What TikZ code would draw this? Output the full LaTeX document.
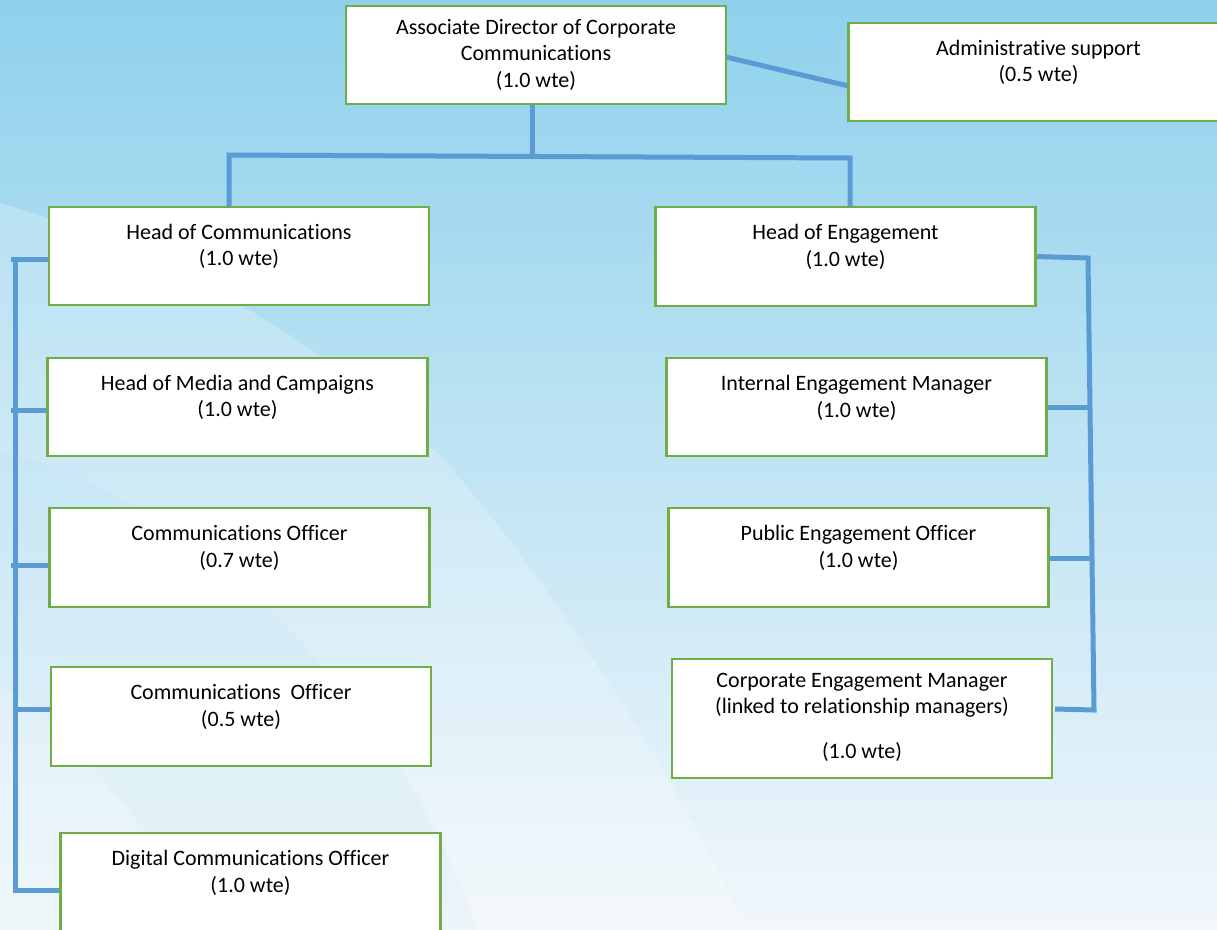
\documentclass[tikz,border=0pt]{standalone}
\usepackage{fontspec}
\setmainfont{Carlito}[Ligatures={NoCommon}]
\usetikzlibrary{calc}
\definecolor{bgtop}{RGB}{143,209,236}
\definecolor{bgmid}{RGB}{184,224,242}
\definecolor{bgbot}{RGB}{241,247,251}
\definecolor{linkblue}{RGB}{91,155,213}
\definecolor{boxgreen}{RGB}{112,173,71}
\pgfdeclarelayer{bglayer}
\pgfsetlayers{bglayer,main}
\tikzset{
  orgbox/.style={draw=boxgreen, line width=2.6pt, fill=white, inner sep=0pt, outer sep=0pt, minimum width=380pt, minimum height=98pt},
  boxtext/.style={anchor=north, align=center, inner sep=0pt, font=\fontsize{22}{26.5}\selectfont},
  conn/.style={draw=linkblue, line width=5pt, line join=miter}
}
\begin{document}
\begin{tikzpicture}[x=1pt,y=-1pt]
\useasboundingbox (0,0) rectangle (1217,929);

% boxes
\node[orgbox] (dir) at (536,55) {};
\node[orgbox] (adm) at (1038.5,72) {};
\node[orgbox] (hc) at (239,256) {};
\node[orgbox, minimum height=99pt] (he) at (845.5,256.5) {};
\node[orgbox] (hm) at (237.5,407) {};
\node[orgbox, minimum height=99pt] (co7) at (239.5,557.5) {};
\node[orgbox, minimum height=99pt] (co5) at (241,716.5) {};
\node[orgbox] (dig) at (250.5,882) {};
\node[orgbox] (iem) at (856.5,407) {};
\node[orgbox, minimum height=99pt] (peo) at (858.5,557.5) {};
\node[orgbox, minimum height=119pt] (cem) at (862,718.5) {};

% texts
\node[boxtext] (dirT) at ($(dir.north)+(0,9.5)$) {\strut Associate Director of Corporate\\Communications\\(1.0 wte)};
\node[boxtext] (admT) at ($(adm.north)+(0,13.5)$) {\strut Administrative support\\(0.5 wte)};
\node[boxtext] (hcT) at ($(hc.north)+(0,13.5)$) {\strut Head of Communications\\(1.0 wte)};
\node[boxtext] (heT) at ($(he.north)+(0,14)$) {\strut Head of Engagement\\(1.0 wte)};
\node[boxtext] (hmT) at ($(hm.north)+(0,13.5)$) {\strut Head of Media and Campaigns\\(1.0 wte)};
\node[boxtext] (co7T) at ($(co7.north)+(0,14)$) {\strut Communications Officer\\(0.7 wte)};
\node[boxtext] (co5T) at ($(co5.north)+(0,14)$) {\strut Communications\ \ Officer\\(0.5 wte)};
\node[boxtext] (digT) at ($(dig.north)+(0,14)$) {\strut Digital Communications Officer\\(1.0 wte)};
\node[boxtext] (iemT) at ($(iem.north)+(0,14)$) {\strut Internal Engagement Manager\\(1.0 wte)};
\node[boxtext] (peoT) at ($(peo.north)+(0,14)$) {\strut Public Engagement Officer\\(1.0 wte)};
\node[boxtext] (cemT) at ($(cem.north)+(0,9.5)$) {\strut Corporate Engagement Manager\\(linked to relationship managers)\\[18pt](1.0 wte)};

\coordinate (jm) at (532,156);
\coordinate (jl) at (229,155);
\coordinate (jr) at (850,158);
\coordinate (lsTop) at (15,259);
\coordinate (lsBot) at (15,890);
\coordinate (rsTop) at (1088,258);
\coordinate (rsBot) at (1094,710);

\begin{pgfonlayer}{bglayer}
% background
\shade[top color=bgtop, middle color=bgmid, bottom color=bgbot] (0,0) rectangle (1217,929);
\fill[white, opacity=0.22] (0,203) .. controls (200,260) and (380,380) .. (470,490) .. controls (560,600) and (680,780) .. (745,929) -- (0,929) -- cycle;
\fill[bgtop, opacity=0.08] (0,452) .. controls (150,480) and (330,640) .. (420,801) .. controls (445,850) and (465,890) .. (477,929) -- (0,929) -- cycle;
\fill[white, opacity=0.22] (0,685) .. controls (60,725) and (150,820) .. (205,929) -- (0,929) -- cycle;

% connector lines
\draw[conn] (dir.south -| jm) -- (jm);
\draw[conn] (hc.north -| jl) -- (jl) -- (jr) -- (he.north -| jr);
\draw[conn] ($(dir.east)+(0,2)$) -- ($(adm.west)+(0,14)$);
% left spine
\draw[conn] (lsTop) -- (lsBot) -- ($(dig.west)+(0,8)$);
\draw[conn] (11,259) -- ($(hc.west)+(0,3)$);
\draw[conn] (11,410) -- ($(hm.west)+(0,3)$);
\draw[conn] (11,565) -- ($(co7.west)+(0,7.5)$);
\draw[conn] (lsTop |- 0,709) -- ($(co5.west)+(0,-7.5)$);
% right spine
\draw[conn] (he.east) -- (rsTop) -- (rsBot) -- ($(cem.east)+(3,-9.5)$);
\draw[conn] (iem.east) -- (1090,407);
\draw[conn] ($(peo.east)+(0,0.5)$) -- (1092,558);
\end{pgfonlayer}
\end{tikzpicture}
\end{document}
